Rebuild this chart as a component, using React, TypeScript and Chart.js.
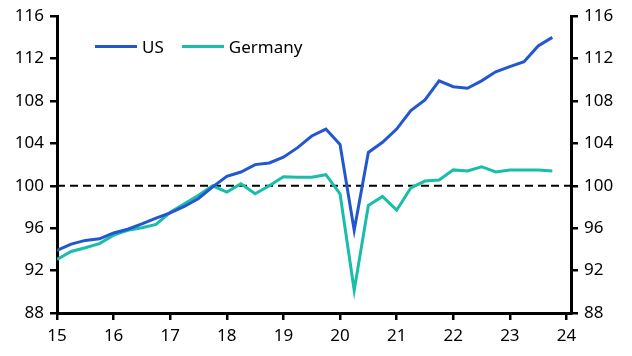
import React, { useEffect, useRef } from "react";
import { Chart, registerables } from "chart.js";

Chart.register(...registerables);

const QUARTERS: number[] = [
  15.0, 15.25, 15.5, 15.75, 16.0, 16.25, 16.5, 16.75, 17.0, 17.25, 17.5, 17.75,
  18.0, 18.25, 18.5, 18.75, 19.0, 19.25, 19.5, 19.75, 20.0, 20.25, 20.5, 20.75,
  21.0, 21.25, 21.5, 21.75, 22.0, 22.25, 22.5, 22.75, 23.0, 23.25, 23.5, 23.75,
];

const US: number[] = [
  93.9, 94.5, 94.85, 95.0, 95.55, 95.9, 96.4, 96.95, 97.45, 98.05, 98.8, 99.9,
  100.9, 101.3, 102.0, 102.15, 102.7, 103.6, 104.7, 105.35, 103.9, 95.8, 103.15, 104.1,
  105.35, 107.1, 108.1, 109.9, 109.35, 109.2, 109.9, 110.75, 111.25, 111.7, 113.2, 114.0,
];

const GERMANY: number[] = [
  93.05, 93.8, 94.15, 94.55, 95.35, 95.8, 96.05, 96.35, 97.5, 98.3, 99.1, 100.0,
  99.4, 100.2, 99.25, 100.0, 100.85, 100.8, 100.8, 101.05, 99.25, 90.15, 98.15, 99.0,
  97.7, 99.8, 100.45, 100.55, 101.5, 101.4, 101.8, 101.3, 101.5, 101.5, 101.5, 101.4,
];

const X_TICKS: number[] = [15, 16, 17, 18, 19, 20, 21, 22, 23, 24];
const Y_TICKS: number[] = [88, 92, 96, 100, 104, 108, 112, 116];
const X_MIN = 15;
const X_MAX = 24.08;
const Y_MIN = 88;
const Y_MAX = 116;
const BASELINE = 100;

const US_COLOR = "#2357CF";
const DE_COLOR = "#19BDAA";
const FONT = "'Noto Sans', 'Open Sans', sans-serif";

export default function App() {
  const canvasRef = useRef<HTMLCanvasElement | null>(null);

  useEffect(() => {
    document.body.style.margin = "0";
    const canvas = canvasRef.current;
    if (!canvas) return;

    const tickFont = { family: FONT, size: 17 };

    const yAxis = (position: "left" | "right", width: number) => ({
      type: "linear" as const,
      position,
      min: Y_MIN,
      max: Y_MAX,
      afterBuildTicks: (scale: any) => {
        scale.ticks = Y_TICKS.map((v) => ({ value: v }));
      },
      afterFit: (scale: any) => {
        scale.width = width;
      },
      ticks: {
        color: "#000",
        font: tickFont,
        padding: 6,
      },
      grid: {
        display: true,
        drawOnChartArea: false,
        drawTicks: true,
        tickLength: 7,
        color: "#000",
        lineWidth: 2.5,
      },
      border: { display: true, color: "#000", width: 3 },
    });

    const chart = new Chart(canvas, {
      type: "line",
      data: {
        datasets: [
          {
            label: "US",
            data: QUARTERS.map((x, i) => ({ x, y: US[i] })),
            borderColor: US_COLOR,
            backgroundColor: US_COLOR,
            borderWidth: 3,
            pointRadius: 0,
            tension: 0,
            yAxisID: "y",
          },
          {
            label: "Germany",
            data: QUARTERS.map((x, i) => ({ x, y: GERMANY[i] })),
            borderColor: DE_COLOR,
            backgroundColor: DE_COLOR,
            borderWidth: 3,
            pointRadius: 0,
            tension: 0,
            yAxisID: "y",
          },
          {
            label: "baseline",
            data: [
              { x: X_MIN, y: BASELINE },
              { x: X_MAX, y: BASELINE },
            ],
            borderColor: "#000",
            borderWidth: 2,
            borderDash: [8, 5],
            pointRadius: 0,
            yAxisID: "y",
          },
        ],
      },
      options: {
        animation: false,
        responsive: false,
        maintainAspectRatio: false,
        layout: { padding: { top: 15, left: 0, right: 0, bottom: 0 } },
        plugins: {
          legend: { display: false },
          tooltip: { enabled: false },
        },
        scales: {
          x: {
            type: "linear",
            position: "bottom",
            min: X_MIN,
            max: X_MAX,
            afterBuildTicks: (scale: any) => {
              scale.ticks = X_TICKS.map((v) => ({ value: v }));
            },
            afterFit: (scale: any) => {
              scale.height = 43;
            },
            ticks: {
              color: "#000",
              font: tickFont,
              padding: 6,
              maxRotation: 0,
              autoSkip: false,
            },
            grid: {
              display: true,
              drawOnChartArea: false,
              drawTicks: true,
              tickLength: 7,
              color: "#000",
              lineWidth: 2.5,
            },
            border: { display: true, color: "#000", width: 3 },
          },
          y: yAxis("left", 57),
          y2: yAxis("right", 61),
        },
      },
    });

    return () => chart.destroy();
  }, []);

  const legendItem = (color: string, label: string) => (
    <div style={{ display: "flex", alignItems: "center", marginRight: 18 }}>
      <div style={{ width: 42, height: 3, background: color, marginRight: 5 }} />
      <span style={{ fontFamily: FONT, fontSize: 17, color: "#000" }}>{label}</span>
    </div>
  );

  return (
    <div style={{ position: "relative", width: 632, height: 356 }}>
      <canvas ref={canvasRef} width={632} height={356} style={{ display: "block" }} />
      <div
        style={{
          position: "absolute",
          left: 95,
          top: 33,
          display: "flex",
          alignItems: "center",
          height: 26,
        }}
      >
        {legendItem(US_COLOR, "US")}
        {legendItem(DE_COLOR, "Germany")}
      </div>
    </div>
  );
}
